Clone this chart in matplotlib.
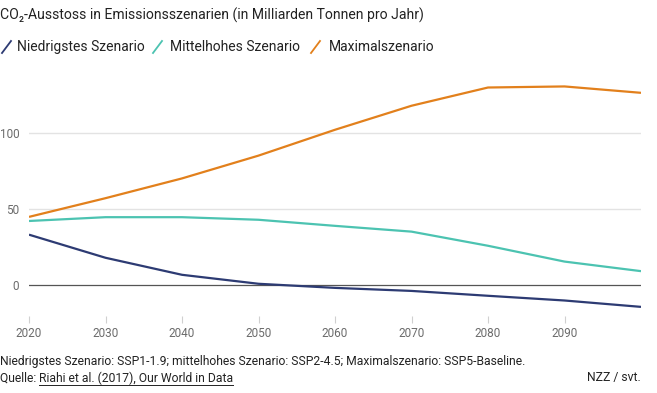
"""
CO2 emissions in three SSP scenarios (NZZ style line chart).
"""

import matplotlib.pyplot as plt
from matplotlib.lines import Line2D

YEARS = [2020, 2030, 2040, 2050, 2060, 2070, 2080, 2090, 2100]
LOW = [33.0, 17.8, 6.6, 0.7, -2.0, -4.0, -7.2, -10.3, -14.5]
MID = [42.0, 44.5, 44.5, 42.8, 38.8, 35.0, 25.7, 15.3, 9.0]
MAX = [44.7, 57.0, 70.0, 85.0, 102.0, 117.8, 129.8, 130.5, 126.3]

SERIES = ["Niedrigstes Szenario", "Mittelhohes Szenario", "Maximalszenario"]
COLORS = ["#2d3b73", "#4cc3b1", "#e2801c"]
XTICKS = [2020, 2030, 2040, 2050, 2060, 2070, 2080, 2090]
YTICKS = [0, 50, 100]

TITLE = "CO\u2082-Ausstoss in Emissionsszenarien (in Milliarden Tonnen pro Jahr)"
NOTE = "Niedrigstes Szenario: SSP1-1.9; mittelhohes Szenario: SSP2-4.5; Maximalszenario: SSP5-Baseline."
SOURCE = "Riahi et al. (2017), Our World in Data"

plt.rcParams["font.family"] = ["Roboto", "DejaVu Sans"]

W, H = 657, 393
fig = plt.figure(figsize=(W / 100, H / 100), dpi=100)


def fx(px):
    return px / W


def fy(py):
    return 1 - py / H


ax = fig.add_axes([fx(29), fy(316), fx(641 - 29), fy(72) - fy(316)])

for ys, c, name in zip([LOW, MID, MAX], COLORS, SERIES):
    ax.plot(YEARS, ys, color=c, lw=1.6, label=name, solid_capstyle="butt", zorder=3)

ax.set_xlim(2020, 2100)
ax.set_ylim(-20.5, 140)
ax.set_yticks(YTICKS)
ax.set_xticks(XTICKS)
ax.set_xticklabels([str(x) for x in XTICKS])
for y in YTICKS:
    if y == 0:
        ax.axhline(0, color="#555555", lw=0.9, zorder=2)
    else:
        ax.axhline(y, color="#e3e3e3", lw=1.0, zorder=1)
for s in ax.spines.values():
    s.set_visible(False)
ax.tick_params(axis="y", length=0, pad=7, labelsize=8.5, labelcolor="#6b6b6b")
ax.tick_params(axis="x", length=5, width=0.8, color="#d0d0d0", pad=3,
               labelsize=8.5, labelcolor="#6b6b6b")

# title
fig.text(fx(0), fy(15), TITLE, fontsize=10.1, color="#222222", va="center", ha="left")

# legend with slanted line icons
legend_x = [(2, 17), (153, 170), (311, 329)]
for (ix, tx), c, name in zip(legend_x, COLORS, SERIES):
    fig.add_artist(Line2D([fx(ix), fx(ix + 9)], [fy(53), fy(41)], color=c, lw=1.3))
    fig.text(fx(tx), fy(47), name, fontsize=10, color="#222222", va="center", ha="left")

# footer
FS = 8.7
fig.text(fx(0), fy(361), NOTE, fontsize=FS, color="#222222", va="center", ha="left")
q = fig.text(fx(0), fy(378), "Quelle: ", fontsize=FS, color="#222222", va="center", ha="left")
fig.canvas.draw()
r = fig.canvas.get_renderer()
bb = q.get_window_extent(r)
src = fig.text(bb.x1 / W, fy(378), SOURCE, fontsize=FS, color="#222222", va="center", ha="left")
sb = src.get_window_extent(r)
fig.add_artist(Line2D([sb.x0 / W, sb.x1 / W], [fy(385), fy(385)], color="#222222", lw=0.7))
fig.text(fx(641), fy(378), "NZZ / svt.", fontsize=FS, color="#222222", va="center", ha="right")

fig.savefig("out.png", dpi=100)
